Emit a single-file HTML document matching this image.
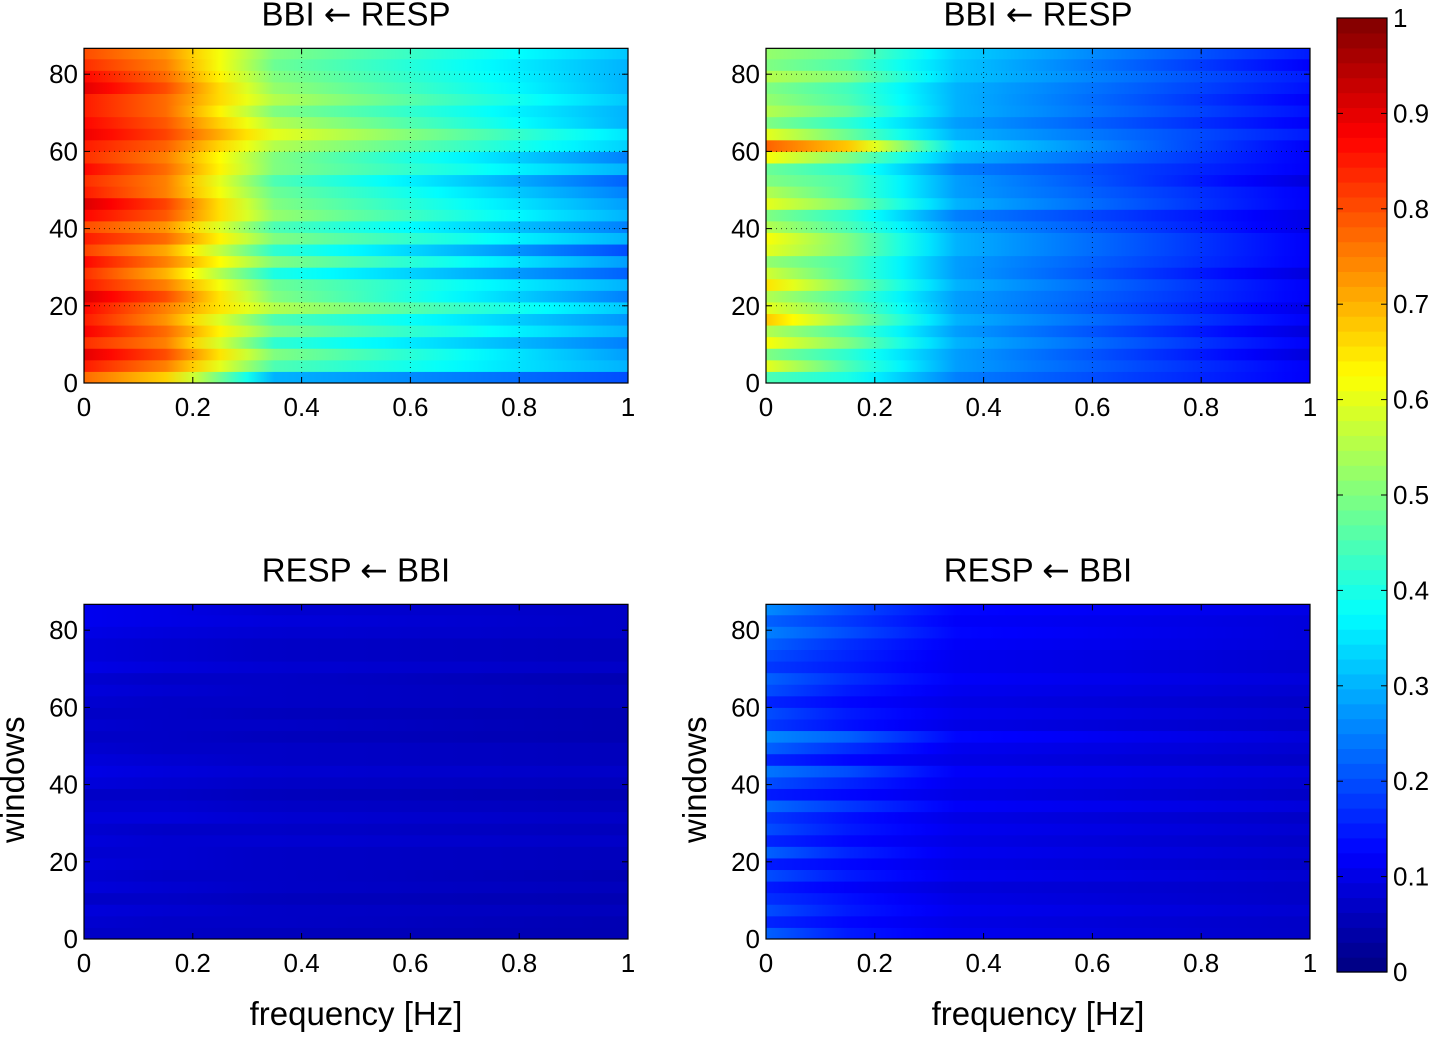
<!DOCTYPE html>
<html><head><meta charset="utf-8"><style>
body{margin:0;background:#fff;width:1434px;height:1033px;overflow:hidden}
svg text{font-family:"Liberation Sans",sans-serif;font-size:26px;fill:#000}
svg text.big{font-size:33px}
</style></head><body>
<svg id="fig" width="1434" height="1033" viewBox="0 0 1434 1033" xmlns="http://www.w3.org/2000/svg"><defs id="defs"></defs></svg>
<script>
const freqAnchors=[0,0.15,0.35,1.0];
const xTicks=[0,0.2,0.4,0.6,0.8,1];
const xTickLabels=["0","0.2","0.4","0.6","0.8","1"];
const yTicks=[0,20,40,60,80];
const cbTicks=[0,0.1,0.2,0.3,0.4,0.5,0.6,0.7,0.8,0.9,1];
const windowsPerRow=3;
const tlRows=[[0.77,0.67,0.3,0.2],[0.85,0.75,0.45,0.3],[0.9,0.8,0.5,0.28],[0.83,0.75,0.42,0.25],[0.88,0.77,0.5,0.3],[0.85,0.73,0.45,0.27],[0.87,0.75,0.55,0.32],[0.91,0.8,0.5,0.25],[0.85,0.75,0.48,0.3],[0.83,0.7,0.4,0.22],[0.87,0.75,0.5,0.28],[0.81,0.71,0.42,0.2],[0.85,0.77,0.5,0.3],[0.8,0.73,0.45,0.25],[0.87,0.79,0.52,0.3],[0.91,0.81,0.5,0.28],[0.85,0.75,0.48,0.25],[0.83,0.75,0.45,0.22],[0.87,0.77,0.5,0.3],[0.83,0.75,0.5,0.25],[0.85,0.78,0.55,0.33],[0.89,0.81,0.6,0.35],[0.87,0.79,0.55,0.3],[0.85,0.77,0.5,0.3],[0.85,0.77,0.55,0.32],[0.9,0.8,0.52,0.3],[0.87,0.77,0.5,0.3],[0.83,0.75,0.48,0.3],[0.8,0.73,0.5,0.32]];
const trRows=[[0.45,0.4,0.25,0.12],[0.6,0.45,0.28,0.12],[0.5,0.42,0.28,0.09],[0.62,0.5,0.3,0.12],[0.55,0.45,0.28,0.09],[0.68,0.52,0.3,0.12],[0.6,0.48,0.28,0.1],[0.55,0.45,0.28,0.12],[0.65,0.5,0.3,0.12],[0.58,0.45,0.28,0.09],[0.52,0.45,0.28,0.12],[0.6,0.5,0.3,0.12],[0.62,0.5,0.3,0.12],[0.55,0.45,0.28,0.1],[0.5,0.42,0.25,0.1],[0.6,0.5,0.3,0.12],[0.55,0.45,0.28,0.12],[0.5,0.45,0.28,0.09],[0.48,0.42,0.25,0.12],[0.62,0.5,0.3,0.12],[0.78,0.68,0.35,0.12],[0.6,0.48,0.3,0.15],[0.5,0.42,0.28,0.12],[0.55,0.48,0.3,0.14],[0.52,0.45,0.3,0.12],[0.5,0.44,0.3,0.14],[0.55,0.5,0.32,0.15],[0.5,0.45,0.32,0.12],[0.52,0.48,0.33,0.15]];
const blRows=[[0.07,0.07,0.06,0.05],[0.08,0.07,0.07,0.05],[0.09,0.08,0.07,0.06],[0.07,0.07,0.06,0.05],[0.09,0.08,0.07,0.06],[0.08,0.07,0.07,0.05],[0.09,0.08,0.07,0.06],[0.08,0.08,0.07,0.06],[0.09,0.08,0.08,0.07],[0.08,0.07,0.07,0.06],[0.09,0.09,0.08,0.07],[0.08,0.08,0.07,0.06],[0.07,0.07,0.06,0.05],[0.09,0.08,0.07,0.06],[0.1,0.09,0.08,0.07],[0.09,0.08,0.07,0.06],[0.08,0.07,0.07,0.06],[0.07,0.07,0.06,0.05],[0.08,0.07,0.07,0.05],[0.07,0.07,0.06,0.05],[0.08,0.07,0.07,0.06],[0.09,0.08,0.07,0.06],[0.08,0.07,0.07,0.05],[0.1,0.09,0.08,0.07],[0.09,0.08,0.07,0.06],[0.09,0.08,0.07,0.06],[0.1,0.09,0.08,0.07],[0.11,0.1,0.09,0.07],[0.11,0.1,0.08,0.07]];
const brRows=[[0.22,0.15,0.11,0.07],[0.16,0.13,0.1,0.07],[0.2,0.15,0.11,0.08],[0.17,0.14,0.1,0.07],[0.15,0.12,0.09,0.07],[0.2,0.15,0.11,0.08],[0.15,0.13,0.1,0.07],[0.22,0.16,0.11,0.08],[0.16,0.13,0.1,0.07],[0.2,0.15,0.11,0.08],[0.18,0.14,0.1,0.07],[0.23,0.18,0.12,0.09],[0.15,0.13,0.1,0.07],[0.2,0.16,0.11,0.08],[0.24,0.2,0.12,0.09],[0.16,0.13,0.1,0.07],[0.22,0.17,0.11,0.08],[0.26,0.22,0.13,0.09],[0.18,0.14,0.1,0.07],[0.2,0.15,0.11,0.08],[0.16,0.13,0.1,0.07],[0.2,0.15,0.11,0.08],[0.22,0.17,0.12,0.09],[0.18,0.15,0.11,0.08],[0.2,0.16,0.11,0.08],[0.22,0.17,0.12,0.09],[0.25,0.2,0.13,0.09],[0.22,0.18,0.12,0.09],[0.26,0.2,0.13,0.1]];

const NS="http://www.w3.org/2000/svg";
const svg=document.getElementById('fig');const defs=document.getElementById('defs');
function clamp(v){return Math.max(0,Math.min(1,v));}
function jet(v){const r=clamp(1.5-Math.abs(4*v-3)),g=clamp(1.5-Math.abs(4*v-2)),b=clamp(1.5-Math.abs(4*v-1));return `rgb(${Math.round(r*255)},${Math.round(g*255)},${Math.round(b*255)})`;}
function el(tag,attrs,parent){const e=document.createElementNS(NS,tag);for(const k in attrs)e.setAttribute(k,attrs[k]);(parent||svg).appendChild(e);return e;}
function txt(x,y,s,anchor,parent){const t=el('text',{x:x,y:y,'text-anchor':anchor||'middle'},parent);t.textContent=s;return t;}
function interp(row,f){for(let i=0;i<freqAnchors.length-1;i++){if(f<=freqAnchors[i+1]){const t=(f-freqAnchors[i])/(freqAnchors[i+1]-freqAnchors[i]);return row[i]+(row[i+1]-row[i])*t;}}return row[row.length-1];}

const panels=[
 {name:'panel-top-left',rows:tlRows,x0:84,x1:628,y0:383,t1:'BBI ',t2:' RESP',grid:true,ylab:false,xlab:false},
 {name:'panel-top-right',rows:trRows,x0:766,x1:1310,y0:383,t1:'BBI ',t2:' RESP',grid:true,ylab:false,xlab:false},
 {name:'panel-bottom-left',rows:blRows,x0:84,x1:628,y0:939,t1:'RESP ',t2:' BBI',grid:false,ylab:true,xlab:true},
 {name:'panel-bottom-right',rows:brRows,x0:766,x1:1310,y0:939,t1:'RESP ',t2:' BBI',grid:false,ylab:true,xlab:true}];
const pxPerWin=3.86, yMax=86.7;
let gid=0;
panels.forEach(p=>{
 const g=el('g',{});
 
 
 const X=f=>p.x0+f*(p.x1-p.x0);
 const Y=w=>p.y0-w*pxPerWin;
 p.rows.forEach((row,i)=>{
  const id='gr'+(gid++);
  const lg=el('linearGradient',{id:id,x1:0,x2:1,y1:0,y2:0},defs);
  for(let k=0;k<=20;k++){const f=k/20;el('stop',{offset:f,'stop-color':jet(interp(row,f))},lg);}
  const w0=i*windowsPerRow,w1=Math.min(yMax,(i+1)*windowsPerRow);
  const r=el('rect',{x:X(0),y:Y(w1),width:X(1)-X(0),height:Y(w0)-Y(w1)+0.5,fill:`url(#${id})`},g);
  
  
 });
 if(p.grid){
  xTicks.slice(1,-1).forEach(t=>el('line',{x1:X(t),x2:X(t),y1:Y(0),y2:Y(yMax),stroke:'#000','stroke-width':1,'stroke-dasharray':'1,4',opacity:0.7},g));
  yTicks.slice(1).forEach(t=>el('line',{x1:X(0),x2:X(1),y1:Y(t),y2:Y(t),stroke:'#000','stroke-width':1,'stroke-dasharray':'1,4',opacity:0.7},g));
 }
 el('rect',{x:X(0),y:Y(yMax),width:X(1)-X(0),height:Y(0)-Y(yMax),fill:'none',stroke:'#000','stroke-width':1.2},g);
 xTicks.forEach((t,i)=>{el('line',{x1:X(t),x2:X(t),y1:Y(0),y2:Y(0)-6,stroke:'#000'},g);el('line',{x1:X(t),x2:X(t),y1:Y(yMax),y2:Y(yMax)+6,stroke:'#000'},g);txt(X(t),Y(0)+33,xTickLabels[i],'middle',g);});
 yTicks.forEach(t=>{el('line',{x1:X(0),x2:X(0)+6,y1:Y(t),y2:Y(t),stroke:'#000'},g);el('line',{x1:X(1),x2:X(1)-6,y1:Y(t),y2:Y(t),stroke:'#000'},g);txt(X(0)-6,Y(t)+9,String(t),'end',g);});
 const tt=el('text',{x:(X(0)+X(1))/2,y:Y(yMax)-23,'text-anchor':'middle',class:'big'},g);
 
 
 const s1=el('tspan',{},tt);s1.textContent=p.t1;
 const s2=el('tspan',{'font-family':'DejaVu Sans'},tt);s2.textContent='\u2190';
 const s3=el('tspan',{},tt);s3.textContent=p.t2;
 if(p.ylab){const yl=txt(0,0,'windows','middle',g);yl.setAttribute('class','big');yl.setAttribute('transform',`translate(${X(0)-60},${(Y(0)+Y(yMax))/2+8}) rotate(-90)`);}
 if(p.xlab){const xl=txt((X(0)+X(1))/2,1025,'frequency [Hz]','middle',g);xl.setAttribute('class','big');}
});
const cb=el('g',{});


const cbX=1337,cbW=50,cbTop=18,cbBot=972;
const CY=v=>cbBot-v*(cbBot-cbTop);
for(let i=0;i<64;i++){el('rect',{x:cbX,y:CY((i+1)/64),width:cbW,height:(cbBot-cbTop)/64+0.6,fill:jet((i+0.5)/64)},cb);}
el('rect',{x:cbX,y:cbTop,width:cbW,height:cbBot-cbTop,fill:'none',stroke:'#000','stroke-width':1.2},cb);
cbTicks.forEach(t=>{el('line',{x1:cbX,x2:cbX+6,y1:CY(t),y2:CY(t),stroke:'#000'},cb);el('line',{x1:cbX+cbW,x2:cbX+cbW-6,y1:CY(t),y2:CY(t),stroke:'#000'},cb);txt(cbX+cbW+6,CY(t)+9,String(t),'start',cb);});
</script>
</body></html>
